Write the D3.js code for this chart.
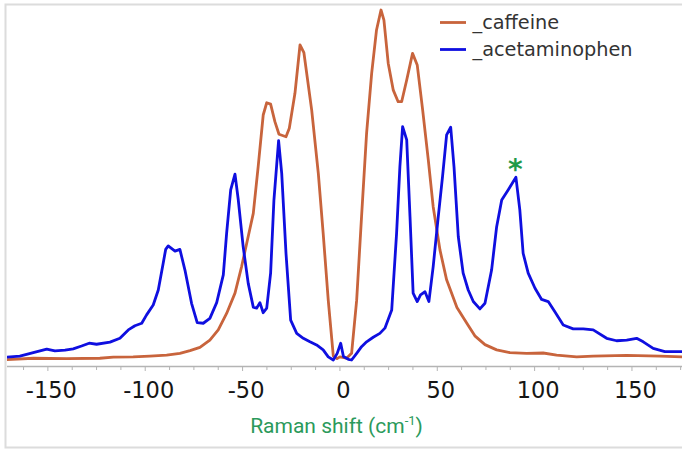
<!DOCTYPE html>
<html>
<head>
<meta charset="utf-8">
<script src="https://cdn.jsdelivr.net/npm/d3@7/dist/d3.min.js"></script>
<style>
  html, body { margin: 0; padding: 0; background: #fff; }
  svg { display: block; }
</style>
</head>
<body>
<svg id="chart" width="682" height="449"></svg>
<script>
// Raman shift (cm-1) and relative intensity for each spectrum
const caffeineShift = [-171.2, -157.5, -140.4, -123.3, -116.4, -106.2, -97.6, -89.0, -82.2, -77.0,
  -71.9, -66.8, -62.5, -58.2, -53.9, -50.5, -47.9, -44.5, -42.0, -39.4,
  -37.6, -35.6, -33.4, -31.3, -27.7, -26.0, -23.1, -20.5, -18.5, -14.5,
  -11.1, -8.6, -6.0, -3.4, -1.5, 0.0, 3.4, 6.0, 8.6, 11.1,
  13.7, 16.3, 18.8, 21.1, 22.6, 24.8, 27.4, 29.9, 31.7, 34.3,
  37.3, 39.7, 42.5, 45.4, 47.9, 51.4, 54.8, 60.1, 65.1, 69.3,
  74.5, 80.5, 87.3, 95.9, 104.4, 111.3, 121.6, 130.1, 147.3, 164.4, 175.7];
const caffeineIntensity = [0.1, 0.5, 0.4, 0.5, 0.8, 0.9, 1.1, 1.4, 1.9, 2.7,
  3.6, 5.7, 8.6, 13.3, 19.1, 26.7, 33.3, 41.9, 55.2, 70.0,
  73.5, 73.1, 68.1, 64.5, 63.8, 66.2, 76.2, 90.0, 87.8, 71.4,
  53.3, 36.2, 17.1, 1.1, 0.4, 0.9, 0.5, 1.9, 17.1, 40.9,
  64.8, 81.9, 94.3, 100.0, 97.1, 84.8, 77.1, 73.8, 73.8, 80.0,
  87.6, 84.3, 71.4, 57.1, 43.8, 31.4, 22.9, 15.0, 10.6, 6.9,
  4.4, 2.9, 2.1, 1.9, 2.0, 1.4, 0.9, 1.1, 1.3, 1.1, 0.9];

const acetaminophenShift = [-171.2, -164.4, -157.5, -150.6, -146.4, -141.2, -137.0, -132.7, -128.8, -125.0,
  -118.1, -113.0, -108.7, -105.3, -101.8, -99.3, -95.9, -93.3, -90.8, -89.5,
  -88.2, -84.7, -82.2, -79.6, -76.2, -73.3, -70.2, -66.8, -63.3, -59.9,
  -58.2, -56.1, -53.9, -52.2, -49.7, -47.1, -44.5, -42.8, -41.1, -39.4,
  -37.6, -35.6, -33.9, -31.5, -29.9, -27.7, -25.3, -22.2, -18.8, -15.4,
  -12.0, -8.6, -6.0, -3.4, -1.4, 0.4, 1.8, 4.3, 6.0, 8.6,
  11.1, 13.7, 17.1, 20.5, 23.1, 26.6, 29.1, 30.8, 32.2, 34.3,
  36.0, 37.6, 39.7, 41.4, 43.7, 45.7, 47.9, 50.5, 52.7, 54.8,
  56.9, 58.6, 60.8, 63.3, 65.9, 68.5, 71.9, 74.5, 77.9, 80.5,
  83.1, 86.4, 90.4, 92.4, 94.1, 96.7, 100.2, 103.6, 107.0, 110.4,
  114.7, 119.8, 125.0, 130.1, 137.0, 142.1, 147.3, 152.4, 155.8, 160.9,
  166.9, 175.7];
const acetaminophenIntensity = [0.8, 1.1, 2.1, 3.1, 2.6, 2.8, 3.2, 4.0, 4.8, 4.5,
  5.1, 6.2, 8.6, 9.8, 10.5, 12.9, 15.7, 20.0, 27.6, 31.6,
  32.6, 31.1, 31.6, 25.7, 16.2, 10.7, 10.5, 11.9, 16.4, 24.3,
  36.2, 48.6, 53.1, 45.7, 32.4, 21.9, 15.1, 14.8, 16.4, 13.5,
  14.8, 24.8, 45.7, 62.7, 53.3, 30.5, 11.4, 7.6, 6.2, 5.2,
  4.3, 2.9, 0.9, 0.0, 1.9, 4.8, 1.0, 0.2, 0.0, 1.9,
  3.8, 5.2, 6.5, 7.6, 9.1, 14.3, 36.2, 55.2, 66.7, 62.9,
  40.9, 19.1, 16.7, 18.6, 19.5, 16.7, 26.7, 40.9, 52.4, 64.3,
  66.5, 55.2, 35.2, 24.8, 20.0, 16.7, 14.6, 16.2, 25.7, 38.1,
  45.7, 48.6, 52.2, 42.9, 30.5, 24.8, 20.5, 17.3, 16.7, 13.8,
  10.0, 8.9, 8.9, 8.6, 6.2, 5.5, 5.7, 6.2, 5.2, 3.3,
  2.4, 2.4];

const seriesNames = ["_caffeine", "_acetaminophen"];
const seriesColors = ["#c8643c", "#0f0fe0"];
const majorTicks = [-150, -100, -50, 0, 50, 100, 150];
const minorTicks = d3.range(-162.5, 176, 12.5);
const markedShift = 90.4; // band flagged with an asterisk

const svg = d3.select("#chart");
const W = 682, H = 449;

// outer frame
svg.append("path")
  .attr("d", `M${W + 2},4.5 H5.5 V447.5 H${W + 2}`)
  .attr("fill", "none")
  .attr("stroke", "#dcdcdc")
  .attr("stroke-width", 2);

const x = d3.scaleLinear().domain([-171, 175.7]).range([7, 682]);
const y = d3.scaleLinear().domain([0, 100]).range([360, 10]);
const axisY = 366.5;

svg.append("defs").append("clipPath").attr("id", "plotClip")
  .append("rect").attr("x", 7).attr("y", 0).attr("width", 675).attr("height", axisY);

// x axis
const axisG = svg.append("g").attr("transform", `translate(0,${axisY})`);
axisG.append("line")
  .attr("x1", 7).attr("x2", 682)
  .attr("stroke", "#b4b4b4").attr("stroke-width", 1.5);
axisG.selectAll("line.minor").data(minorTicks).join("line")
  .attr("class", "minor")
  .attr("x1", d => x(d)).attr("x2", d => x(d))
  .attr("y1", 0).attr("y2", d => majorTicks.includes(d) ? 4.5 : 3.5)
  .attr("stroke", "#b4b4b4").attr("stroke-width", 1);
axisG.selectAll("text.tick").data(majorTicks).join("text")
  .attr("class", "tick")
  .attr("x", d => x(d) + 3.5)
  .attr("y", 31.5)
  .attr("text-anchor", "middle")
  .attr("font-family", "'DejaVu Sans', Verdana, sans-serif")
  .attr("font-size", 22.5)
  .attr("fill", "#151515")
  .text(d => String(d));

// axis title
const title = svg.append("text")
  .attr("x", 336.5).attr("y", 433)
  .attr("text-anchor", "middle")
  .attr("font-family", "Roboto, 'Noto Sans', sans-serif")
  .attr("font-size", 21)
  .attr("fill", "#2b9a5b");
title.append("tspan").text("Raman shift (cm");
title.append("tspan").attr("dy", -8).attr("font-size", 13).text("-1");
title.append("tspan").attr("dy", 8).text(")");

// spectra
const line = d3.line().x(d => x(d[0])).y(d => y(d[1]));
const series = [
  d3.zip(caffeineShift, caffeineIntensity),
  d3.zip(acetaminophenShift, acetaminophenIntensity)
];
const plot = svg.append("g").attr("clip-path", "url(#plotClip)");
plot.selectAll("path.spectrum").data(series).join("path")
  .attr("class", "spectrum")
  .attr("d", line)
  .attr("fill", "none")
  .attr("stroke", (d, i) => seriesColors[i])
  .attr("stroke-width", 2.8)
  .attr("stroke-linejoin", "round");

// asterisk above the marked band
const markIdx = acetaminophenShift.indexOf(markedShift);
svg.append("text")
  .attr("x", x(markedShift) - 0.5)
  .attr("y", y(acetaminophenIntensity[markIdx]) + 2)
  .attr("text-anchor", "middle")
  .attr("font-family", "'DejaVu Sans', sans-serif")
  .attr("font-size", 28)
  .attr("font-weight", "bold")
  .attr("fill", "#1f9a4a")
  .text("*");

// legend
const legend = svg.append("g");
seriesNames.forEach((name, i) => {
  const ly = 22.5 + i * 27;
  legend.append("line")
    .attr("x1", 440).attr("x2", 466)
    .attr("y1", ly).attr("y2", ly)
    .attr("stroke", seriesColors[i]).attr("stroke-width", 2.8);
  legend.append("text")
    .attr("x", 472.5).attr("y", ly + 6.5)
    .attr("font-family", "'DejaVu Sans', Verdana, sans-serif")
    .attr("font-size", 19.3)
    .attr("fill", "#333")
    .text(name);
});
</script>
</body>
</html>
